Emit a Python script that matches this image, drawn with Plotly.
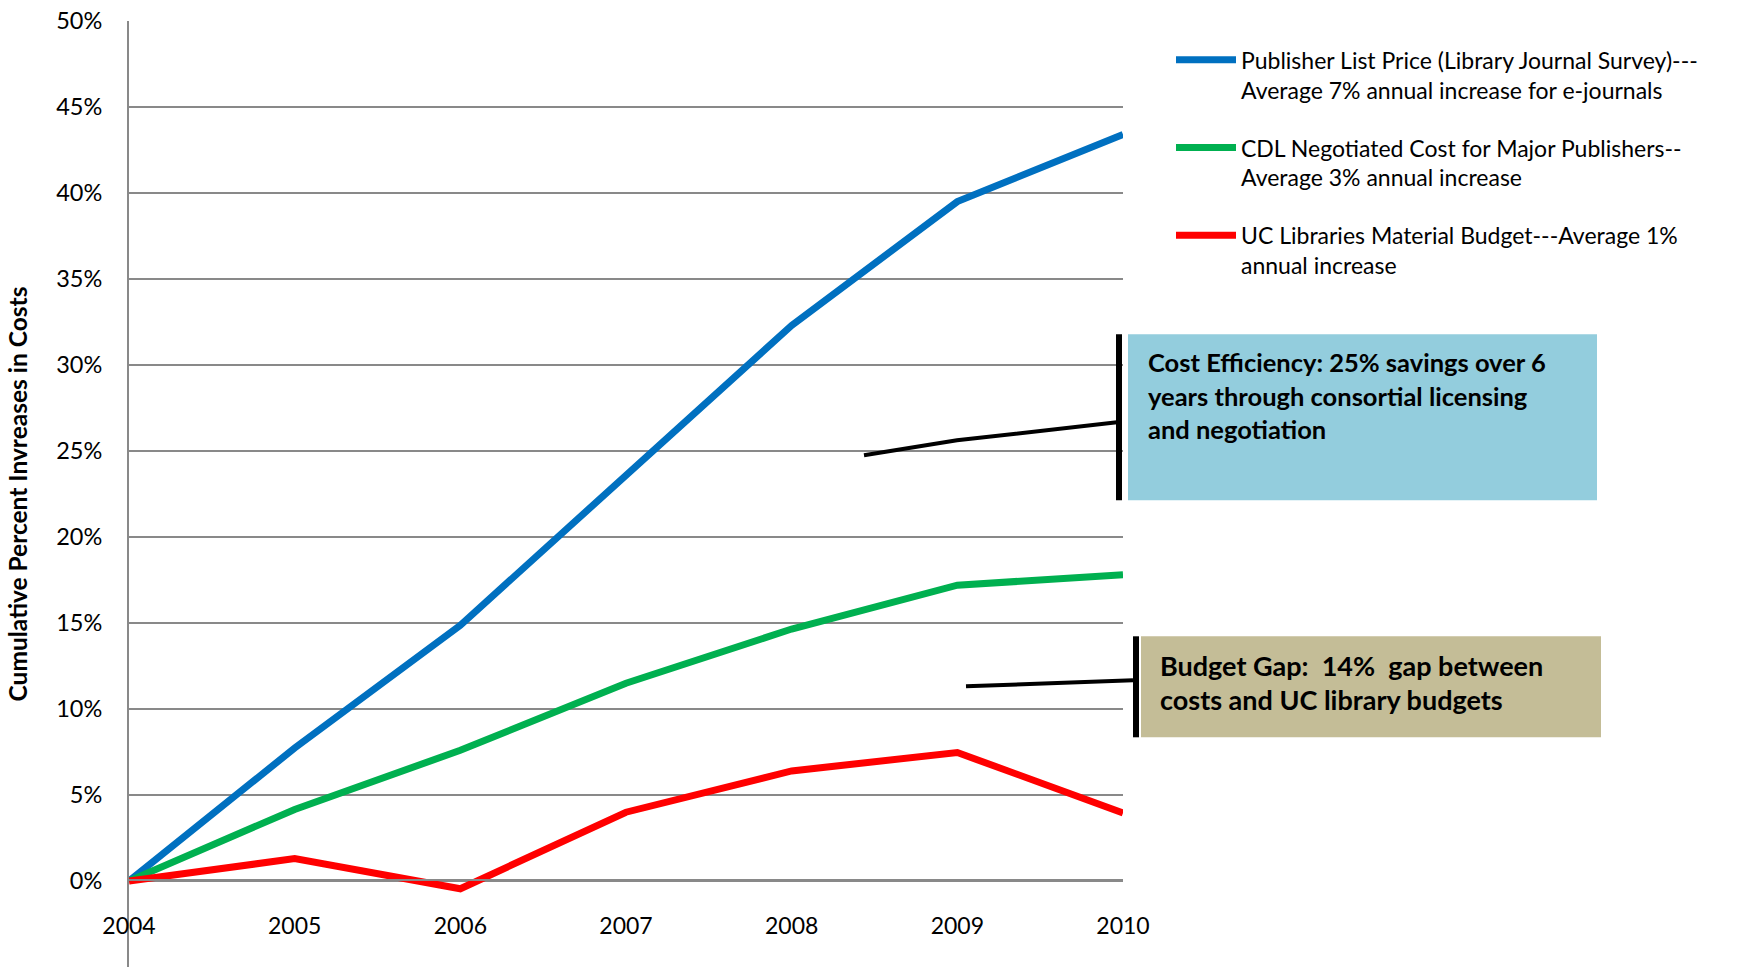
import plotly.graph_objects as go

years = [2004, 2005, 2006, 2007, 2008, 2009, 2010]
publisher_list = [0.0, 7.73, 14.87, 23.57, 32.3, 39.5, 43.4]
cdl_negotiated = [0.0, 4.16, 7.6, 11.5, 14.65, 17.2, 17.8]
uc_budget = [0.0, 1.3, -0.45, 4.0, 6.4, 7.47, 3.96]

series_names = [
    "Publisher List Price (Library Journal Survey)---<br>Average 7% annual increase for e-journals",
    "CDL Negotiated Cost for Major Publishers--<br>Average 3% annual increase",
    "UC Libraries Material Budget---Average 1%<br>annual increase",
]
series_colors = ["#0070C0", "#00B050", "#FF0000"]

y_tick_vals = [-5, 0, 5, 10, 15, 20, 25, 30, 35, 40, 45, 50]
y_tick_text = ["-5%", "0%", "5%", "10%", "15%", "20%", "25%", "30%", "35%", "40%", "45%", "50%"]
x_tick_text = ["2004", "2005", "2006", "2007", "2008", "2009", "2010"]

box1_lines = ["Cost Efficiency: 25% savings over 6",
              "years through consortial licensing",
              "and negotiation"]
box2_lines = ["Budget Gap:&nbsp; 14%&nbsp; gap between",
              "costs and UC library budgets"]

W, H = 1746, 979
L, R, T, B = 129, 1123, 20.7, 966.7


def px(x):
    return (x - L) / (R - L)


def py(y):
    return (B - y) / (B - T)


FONT = "Lato"
fig = go.Figure()
for vals, name, col in zip([publisher_list, cdl_negotiated, uc_budget], series_names, series_colors):
    fig.add_trace(go.Scatter(x=years, y=vals, mode="lines", name=name,
                             line=dict(color=col, width=7), legendgroup=name))

shapes = []
# Cost efficiency box
shapes.append(dict(type="rect", xref="paper", yref="paper", x0=px(1128), x1=px(1597),
                   y0=py(500), y1=py(334), fillcolor="#93CDDD", line=dict(width=0), layer="above"))
shapes.append(dict(type="line", xref="paper", yref="paper", x0=px(1119), x1=px(1119),
                   y0=py(500), y1=py(334), line=dict(color="black", width=6)))
shapes.append(dict(type="path", xref="paper", yref="paper",
                   path=f"M {px(864)},{py(455)} L {px(957)},{py(440)} L {px(1117)},{py(422)}",
                   line=dict(color="black", width=4)))
# Budget gap box
shapes.append(dict(type="rect", xref="paper", yref="paper", x0=px(1141), x1=px(1601),
                   y0=py(737), y1=py(636), fillcolor="#C4BD97", line=dict(width=0), layer="above"))
shapes.append(dict(type="line", xref="paper", yref="paper", x0=px(1136), x1=px(1136),
                   y0=py(737), y1=py(636), line=dict(color="black", width=6)))
shapes.append(dict(type="line", xref="paper", yref="paper", x0=px(966), x1=px(1133),
                   y0=py(686), y1=py(680), line=dict(color="black", width=4)))

annotations = []
for i, t in enumerate(box1_lines):
    annotations.append(dict(text=f"<b>{t}</b>", xref="paper", yref="paper", x=px(1146), y=py(362 + 33.5 * i),
                            xanchor="left", yanchor="middle", showarrow=False,
                            font=dict(family=FONT, size=25.5, color="black")))
for i, t in enumerate(box2_lines):
    annotations.append(dict(text=f"<b>{t}</b>", xref="paper", yref="paper", x=px(1158), y=py(665 + 34.5 * i),
                            xanchor="left", yanchor="middle", showarrow=False,
                            font=dict(family=FONT, size=27, color="black")))

fig.update_layout(
    width=W, height=H,
    margin=dict(l=L, r=W - R, t=T, b=H - B, autoexpand=False),
    paper_bgcolor="white", plot_bgcolor="white",
    font=dict(family=FONT, size=23, color="black"),
    shapes=shapes, annotations=annotations,
    legend=dict(x=px(1171), y=py(38), xanchor="left", yanchor="top",
                font=dict(family=FONT, size=23, color="black"),
                valign="top", tracegroupgap=25, itemwidth=60, bgcolor="rgba(0,0,0,0)"),
    xaxis=dict(range=[2004, 2010], tickvals=years, ticktext=x_tick_text,
               showgrid=False, zeroline=False, showline=True, linecolor="#898989", linewidth=1.5,
               anchor="free", position=py(880), ticks="", ticklabelstandoff=25,
               tickfont=dict(family=FONT, size=23, color="black")),
    yaxis=dict(range=[-5, 50], tickvals=y_tick_vals, ticktext=y_tick_text,
               showgrid=True, gridcolor="#898989", gridwidth=1.5, zeroline=False,
               showline=True, linecolor="#898989", linewidth=2, ticks="", ticklabelstandoff=20,
               tickfont=dict(family=FONT, size=23.5, color="black"),
               title=dict(text="<b>Cumulative Percent Invreases in Costs</b>", standoff=22,
                          font=dict(family=FONT, size=24.5, color="black"))),
)

fig.write_html("out.html", config={"displayModeBar": False},
               post_script="document.body.style.margin='0px';")
